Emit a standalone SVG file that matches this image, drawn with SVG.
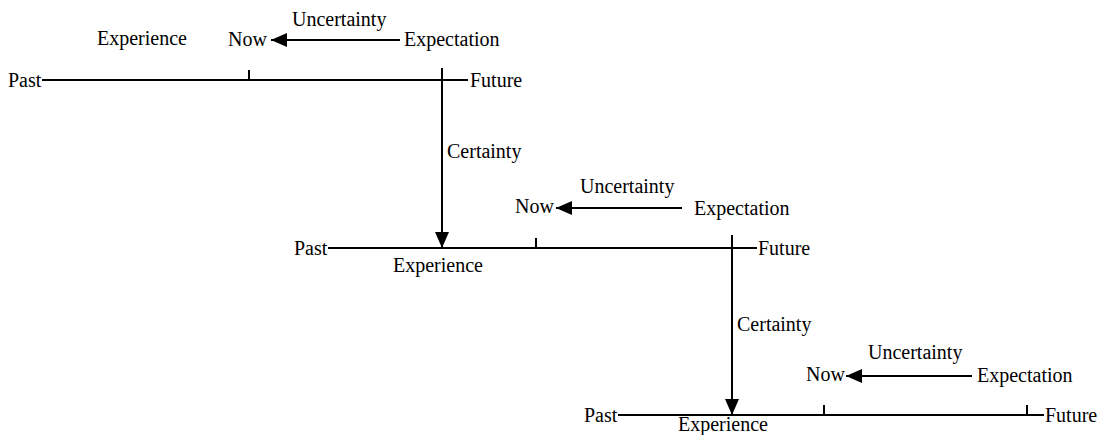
<svg xmlns="http://www.w3.org/2000/svg" width="1101" height="435" viewBox="0 0 1101 435">
  <style>
    text { font-family: 'Liberation Serif', 'Times New Roman', serif; font-size: 20px; fill: #000; }
    .axis, .tick, .conn { stroke: #000; stroke-width: 2; fill: none; }
  </style>
  <defs>
    <!-- filled triangular arrowhead shared by all connectors -->
    <marker id="head" markerUnits="userSpaceOnUse" viewBox="0 0 16 14" refX="16" refY="7" markerWidth="16" markerHeight="14" orient="auto">
      <path d="M0,0 L16,7 L0,14 Z" fill="#000"/>
    </marker>
  </defs>
  <rect width="1101" height="435" fill="#fff"/>

  <!-- Timeline 1 -->
  <g id="timeline1">
    <text x="8" y="87">Past</text>
    <line class="axis" x1="42" y1="80" x2="468" y2="80"/>
    <line class="tick" x1="249" y1="70" x2="249" y2="80"/>
    <text x="470" y="87">Future</text>
  </g>
  <g id="experience1"><text x="97" y="45">Experience</text></g>
  <g id="now1"><text x="228" y="46">Now</text></g>
  <g id="expectation1"><text x="404" y="46">Expectation</text></g>
  <g id="uncertainty1"><text x="292" y="26">Uncertainty</text></g>
  <g id="certainty1"><text x="447" y="158">Certainty</text></g>

  <!-- Timeline 2 -->
  <g id="timeline2">
    <text x="294" y="255">Past</text>
    <line class="axis" x1="328" y1="248" x2="757" y2="248"/>
    <line class="tick" x1="536" y1="238" x2="536" y2="248"/>
    <text x="758" y="255">Future</text>
  </g>
  <g id="experience2"><text x="393" y="272">Experience</text></g>
  <g id="now2"><text x="515" y="213">Now</text></g>
  <g id="expectation2"><text x="694" y="215">Expectation</text></g>
  <g id="uncertainty2"><text x="580" y="193">Uncertainty</text></g>
  <g id="certainty2"><text x="737" y="331">Certainty</text></g>

  <!-- Timeline 3 -->
  <g id="timeline3">
    <text x="584" y="422">Past</text>
    <line class="axis" x1="618" y1="415" x2="1044" y2="415"/>
    <line class="tick" x1="824" y1="405" x2="824" y2="415"/>
    <line class="tick" x1="1027" y1="405" x2="1027" y2="415"/>
    <text x="1045" y="422">Future</text>
  </g>
  <g id="experience3"><text x="678" y="431">Experience</text></g>
  <g id="now3"><text x="806" y="381">Now</text></g>
  <g id="expectation3"><text x="977" y="382">Expectation</text></g>
  <g id="uncertainty3"><text x="868" y="359">Uncertainty</text></g>

  <!-- Connectors -->
  <g id="connectors">
    <line class="conn" x1="400" y1="40" x2="271" y2="40" marker-end="url(#head)"/>
    <line class="conn" x1="442" y1="68" x2="442" y2="248" marker-end="url(#head)"/>
    <line class="conn" x1="682" y1="208" x2="556" y2="208" marker-end="url(#head)"/>
    <line class="conn" x1="732" y1="235" x2="732" y2="415" marker-end="url(#head)"/>
    <line class="conn" x1="972" y1="376" x2="846" y2="376" marker-end="url(#head)"/>
  </g>
</svg>
